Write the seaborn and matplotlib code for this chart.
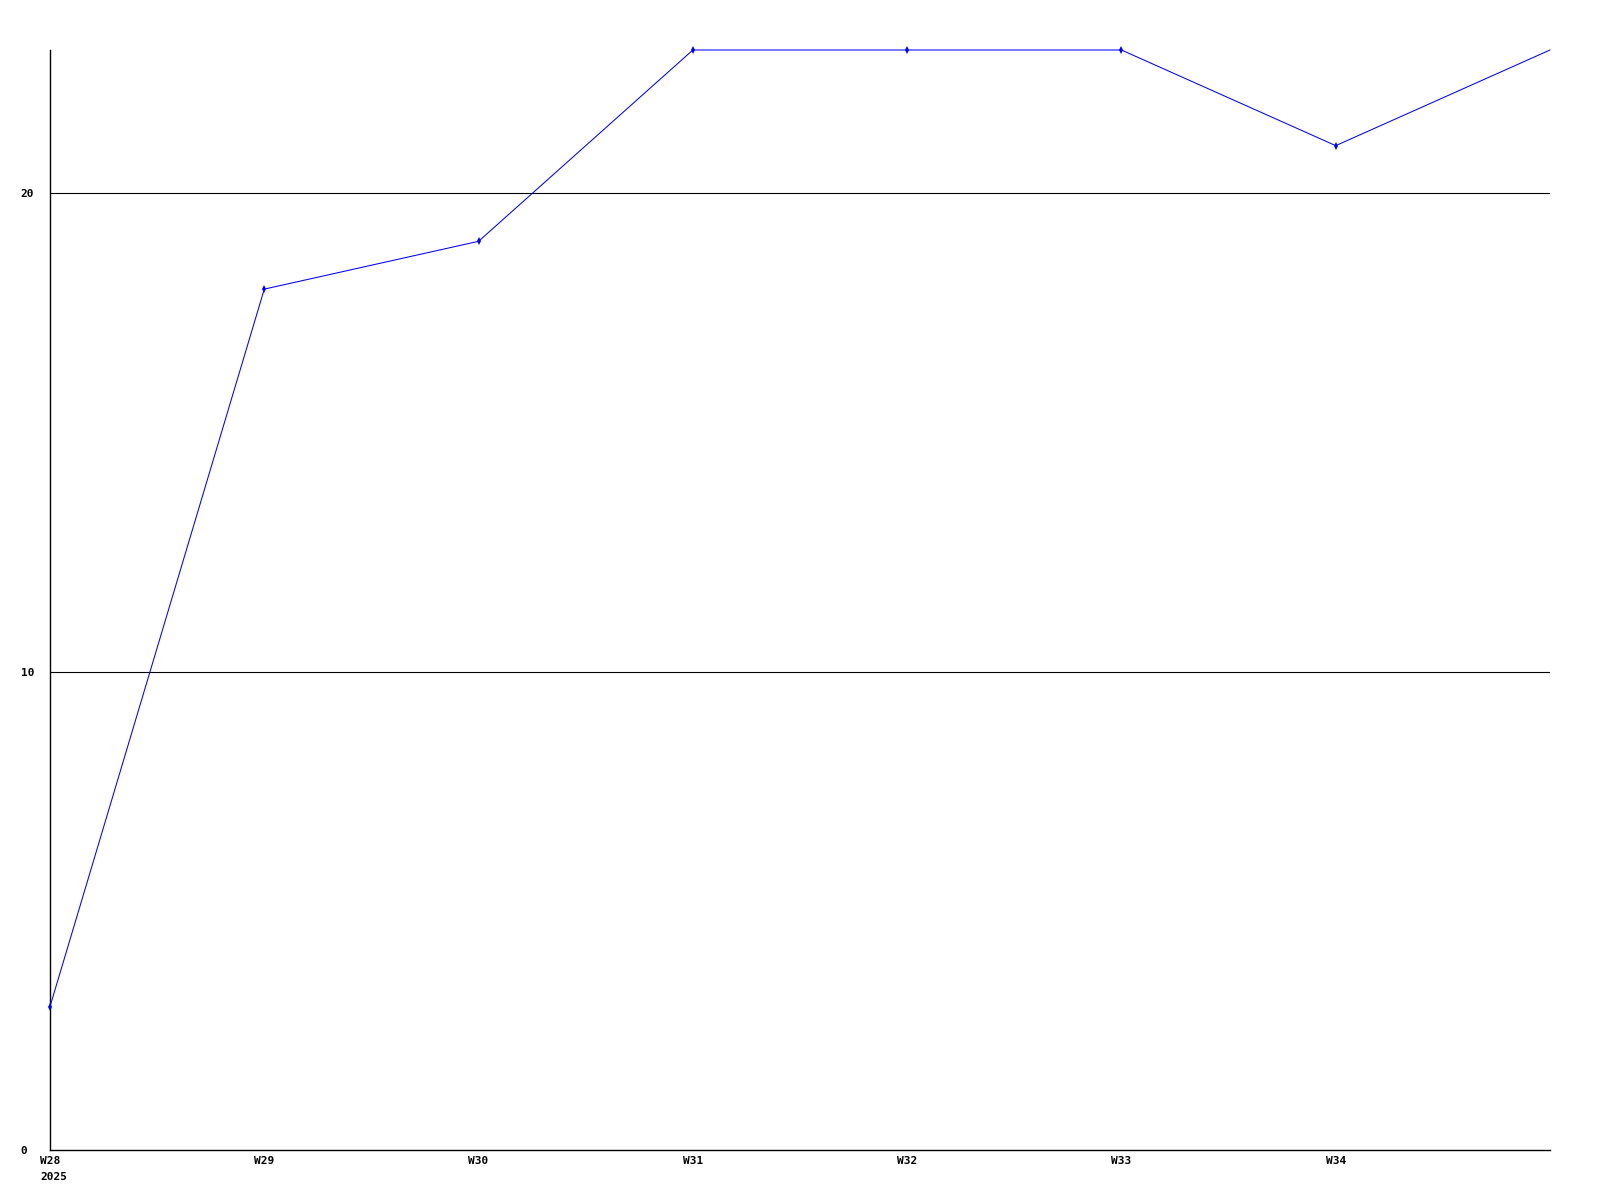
import matplotlib
matplotlib.use("Agg")
import matplotlib.pyplot as plt
import pandas as pd
import seaborn as sns

# weekly series, 2025
weeks = ["W28", "W29", "W30", "W31", "W32", "W33", "W34", "W35"]
values = [3, 18, 19, 23, 23, 23, 21, 23]
year_label = "2025"
y_ticks = [0, 10, 20]

sns.set_theme(style="white")
plt.rcParams["font.family"] = ["DejaVu Sans Mono", "DejaVu Sans"]
plt.rcParams["text.color"] = "black"
plt.rcParams["xtick.color"] = "black"
plt.rcParams["ytick.color"] = "black"

df = pd.DataFrame({"pos": range(len(weeks)), "week": weeks, "value": values})

fig = plt.figure(figsize=(16, 12), dpi=100)
ax = fig.add_axes([50 / 1600, 50 / 1200, 1500 / 1600, 1100 / 1200])

# horizontal grid lines
for t in y_ticks[1:]:
    ax.axhline(t, color="black", lw=0.8, zorder=1)

# last point sits on the right edge and carries no marker
sns.lineplot(data=df, x="pos", y="value", color="#0000ff", lw=0.75,
             marker="d", markersize=4, markeredgewidth=0, ax=ax, zorder=3,
             clip_on=False, markevery=list(range(len(weeks) - 1)))

ax.set_xlim(0, len(weeks) - 1)
ax.set_ylim(0, 23)
ax.set_xticks(df["pos"][:-1])
ax.set_xticklabels(weeks[:-1], fontsize=8, fontweight="bold")
ax.set_yticks(y_ticks)
ax.set_yticklabels([str(t) for t in y_ticks], fontsize=8, fontweight="bold")
for lbl in ax.get_yticklabels():
    lbl.set_horizontalalignment("left")
ax.tick_params(axis="x", length=0, pad=4)
ax.tick_params(axis="y", length=0, pad=21)
ax.set_xlabel("")
ax.set_ylabel("")

for side in ("top", "right"):
    ax.spines[side].set_visible(False)
for side in ("left", "bottom"):
    ax.spines[side].set_color("black")
    ax.spines[side].set_linewidth(1)

ax.annotate(year_label, xy=(0, 0), xycoords=("data", "axes fraction"),
            xytext=(-10, -22), textcoords="offset pixels",
            ha="left", va="top", fontsize=8, fontweight="bold", color="black")

fig.savefig("out.png", dpi=100)
